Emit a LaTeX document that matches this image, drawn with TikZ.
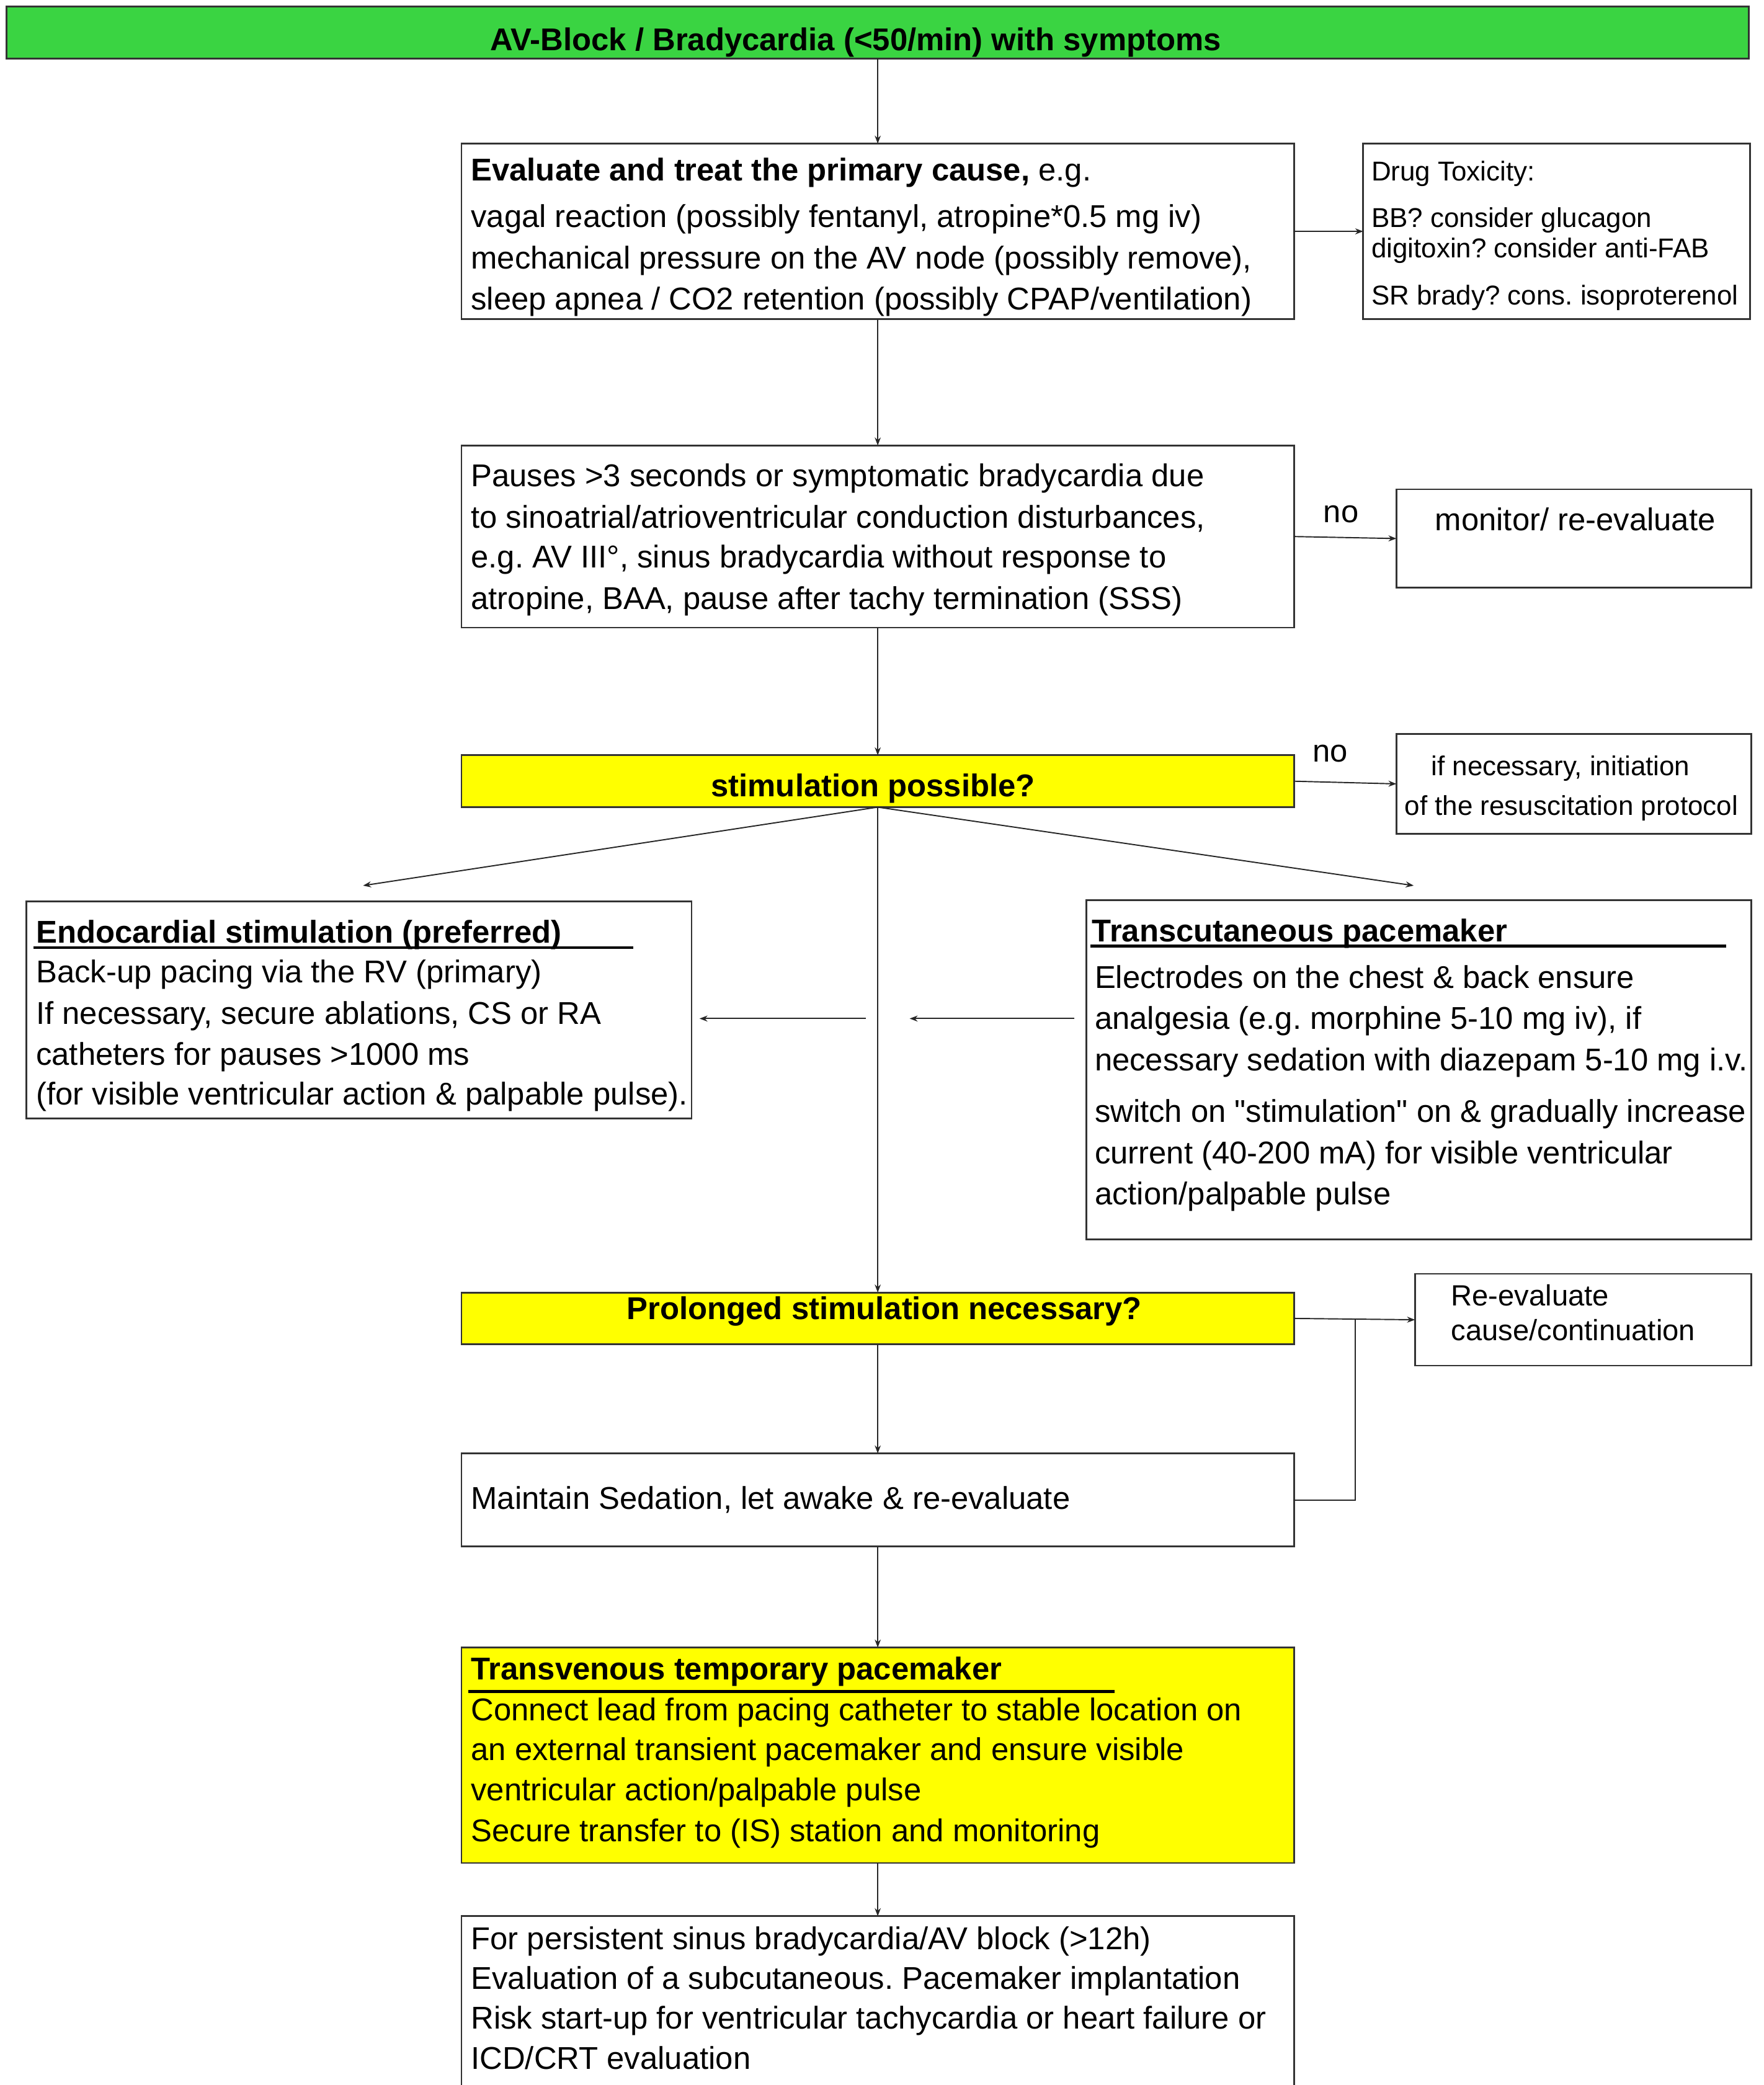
\documentclass[tikz,border=0pt]{standalone}
\usepackage{fontspec}
\setmainfont{Liberation Sans}[Ligatures=TeXOff]
\usetikzlibrary{arrows.meta}
\definecolor{hgreen}{RGB}{58,212,66}
\definecolor{hyellow}{RGB}{255,255,0}
\frenchspacing
\begin{document}
\begin{tikzpicture}[x=1pt,y=-1pt,
  box/.style={draw=black!80, line width=1.3pt, inner sep=0pt, outer sep=0pt, anchor=north west, rectangle},
  txt/.style={anchor=base west, inner sep=0pt, font=\fontsize{23.7}{28}\selectfont},
  btxt/.style={anchor=base west, inner sep=0pt, font=\fontsize{23.7}{28}\selectfont\bfseries},
  stxt/.style={anchor=base west, inner sep=0pt, font=\fontsize{20.5}{24}\selectfont},
  ctxt/.style={anchor=base, inner sep=0pt, font=\fontsize{23.7}{28}\selectfont\bfseries},
  conn/.style={draw=black!85, line width=0.9pt},
  arr/.style={conn, -{Stealth[length=6pt,width=4.5pt]}},
  uline/.style={draw=black, line width=2pt},
]
\useasboundingbox (0,0) rectangle (1326,1568);
\clip (0,0) rectangle (1326,1568);
\fill[white] (0,0) rectangle (1326,1568);

% boxes
\node[box, fill=hgreen, minimum width=1310pt, minimum height=39pt] (head) at (5,5) {};
\node[box, minimum width=626pt, minimum height=132pt] (eval) at (347,108) {};
\node[box, minimum width=291pt, minimum height=132pt] (drug) at (1025,108) {};
\node[box, minimum width=626pt, minimum height=137pt] (pause) at (347,335) {};
\node[box, minimum width=267pt, minimum height=74pt] (monitor) at (1050,368) {};
\node[box, fill=hyellow, minimum width=626pt, minimum height=39pt] (stim) at (347,568) {};
\node[box, minimum width=267pt, minimum height=75pt] (resus) at (1050,552) {};
\node[box, minimum width=500pt, minimum height=163pt] (endo) at (20,678) {};
\node[box, minimum width=500pt, minimum height=255pt] (trans) at (817,677) {};
\node[box, fill=hyellow, minimum width=626pt, minimum height=39pt] (prolong) at (347,972) {};
\node[box, minimum width=253pt, minimum height=69pt] (reeval) at (1064,958) {};
\node[box, minimum width=626pt, minimum height=70pt] (maintain) at (347,1093) {};
\node[box, fill=hyellow, minimum width=626pt, minimum height=162pt] (transv) at (347,1239) {};
\node[box, minimum width=626pt, minimum height=180pt] (final) at (347,1441) {};

% texts
\node[ctxt] (t-head) at (643.5,38) {AV-Block / Bradycardia (<50/min) with symptoms};

\node[txt] (t-eval1) at (354,136) {\textbf{Evaluate and treat the primary cause,} e.g.};
\node[txt] (t-eval2) at (354,171) {vagal reaction (possibly fentanyl, atropine*0.5 mg iv)};
\node[txt] (t-eval3) at (354,202) {mechanical pressure on the AV node (possibly remove),};
\node[txt] (t-eval4) at (354,233) {sleep apnea / CO2 retention (possibly CPAP/ventilation)};

\node[stxt] (t-drug1) at (1031,136) {Drug Toxicity:};
\node[stxt] (t-drug2) at (1031,171) {BB? consider glucagon};
\node[stxt] (t-drug3) at (1031,194) {digitoxin? consider anti-FAB};
\node[stxt] (t-drug4) at (1031,229) {SR brady? cons. isoproterenol};

\node[txt] (t-pause1) at (354,366) {Pauses >3 seconds or symptomatic bradycardia due};
\node[txt] (t-pause2) at (354,397) {to sinoatrial/atrioventricular conduction disturbances,};
\node[txt] (t-pause3) at (354,427) {e.g. AV III°, sinus bradycardia without response to};
\node[txt] (t-pause4) at (354,458) {atropine, BAA, pause after tachy termination (SSS)};

\node[txt] (no1) at (995,393) {no};
\node[txt] (no2) at (987,573) {no};

\node[txt, anchor=base] (t-mon) at (1184.5,399) {monitor/ re-evaluate};

\node[ctxt] (t-stim) at (656.5,599) {stimulation possible?};

\node[stxt] (t-res1) at (1076,583) {if necessary, initiation};
\node[stxt] (t-res2) at (1056,613) {of the resuscitation protocol};

\node[btxt] (t-endo0) at (27,709) {Endocardial stimulation (preferred)};
\draw[uline] (25,712.5) -- (476,712.5);
\node[txt] (t-endo1) at (27,739) {Back-up pacing via the RV (primary)};
\node[txt] (t-endo2) at (27,770) {If necessary, secure ablations, CS or RA};
\node[txt] (t-endo3) at (27,801) {catheters for pauses >1000 ms};
\node[txt] (t-endo4) at (27,831) {(for visible ventricular action \& palpable pulse).};

\node[btxt] (t-tr0) at (821,708) {Transcutaneous pacemaker};
\draw[uline] (820,711.5) -- (1298,711.5);
\node[txt] (t-tr1) at (823,743) {Electrodes on the chest \& back ensure};
\node[txt] (t-tr2) at (823,774) {analgesia (e.g. morphine 5-10 mg iv), if};
\node[txt] (t-tr3) at (823,805) {necessary sedation with diazepam 5-10 mg i.v.};
\node[txt] (t-tr4) at (823,844) {switch on "stimulation" on \& gradually increase};
\node[txt] (t-tr5) at (823,875) {current (40-200 mA) for visible ventricular};
\node[txt] (t-tr6) at (823,906) {action/palpable pulse};

\node[ctxt] (t-prol) at (665,992) {Prolonged stimulation necessary?};

\node[txt, font=\fontsize{22}{26}\selectfont] (t-re1) at (1091,982) {Re-evaluate};
\node[txt, font=\fontsize{22}{26}\selectfont] (t-re2) at (1091,1008) {cause/continuation};

\node[txt] (t-main) at (354,1135) {Maintain Sedation, let awake \& re-evaluate};

\node[btxt] (t-tv0) at (354,1263) {Transvenous temporary pacemaker};
\draw[uline] (352,1272) -- (838,1272);
\node[txt] (t-tv1) at (354,1294) {Connect lead from pacing catheter to stable location on};
\node[txt] (t-tv2) at (354,1324) {an external transient pacemaker and ensure visible};
\node[txt] (t-tv3) at (354,1354) {ventricular action/palpable pulse};
\node[txt] (t-tv4) at (354,1385) {Secure transfer to (IS) station and monitoring};

\node[txt] (t-f1) at (354,1466) {For persistent sinus bradycardia/AV block (>12h)};
\node[txt] (t-f2) at (354,1496) {Evaluation of a subcutaneous. Pacemaker implantation};
\node[txt] (t-f3) at (354,1526) {Risk start-up for ventricular tachycardia or heart failure or};
\node[txt] (t-f4) at (354,1556) {ICD/CRT evaluation};

% connectors
\coordinate (eL) at (273,666);
\coordinate (eR) at (1063,666);
\coordinate (a1s) at (808,766);
\coordinate (a1e) at (684,766);
\coordinate (a2s) at (651,766);
\coordinate (a2e) at (526,766);
\coordinate (jn) at (1019,991.5);

\draw[arr] (head.south) -- (eval.north);
\draw[arr] (eval.east) -- (drug.west);
\draw[arr] (eval.south) -- (pause.north);
\draw[arr] (pause.east) -- (monitor.west);
\draw[arr] (pause.south) -- (stim.north);
\draw[arr] (stim.east) -- (resus.west);
\draw[arr] (stim.south) -- (eL);
\draw[arr] (stim.south) -- (eR);
\draw[arr] (stim.south) -- (prolong.north);
\draw[arr] (a1s) -- (a1e);
\draw[arr] (a2s) -- (a2e);
\draw[arr] (prolong.east) -- (reeval.west);
\draw[conn] (maintain.east) -| (jn);
\draw[arr] (prolong.south) -- (maintain.north);
\draw[arr] (maintain.south) -- (transv.north);
\draw[arr] (transv.south) -- (final.north);
\end{tikzpicture}
\end{document}
